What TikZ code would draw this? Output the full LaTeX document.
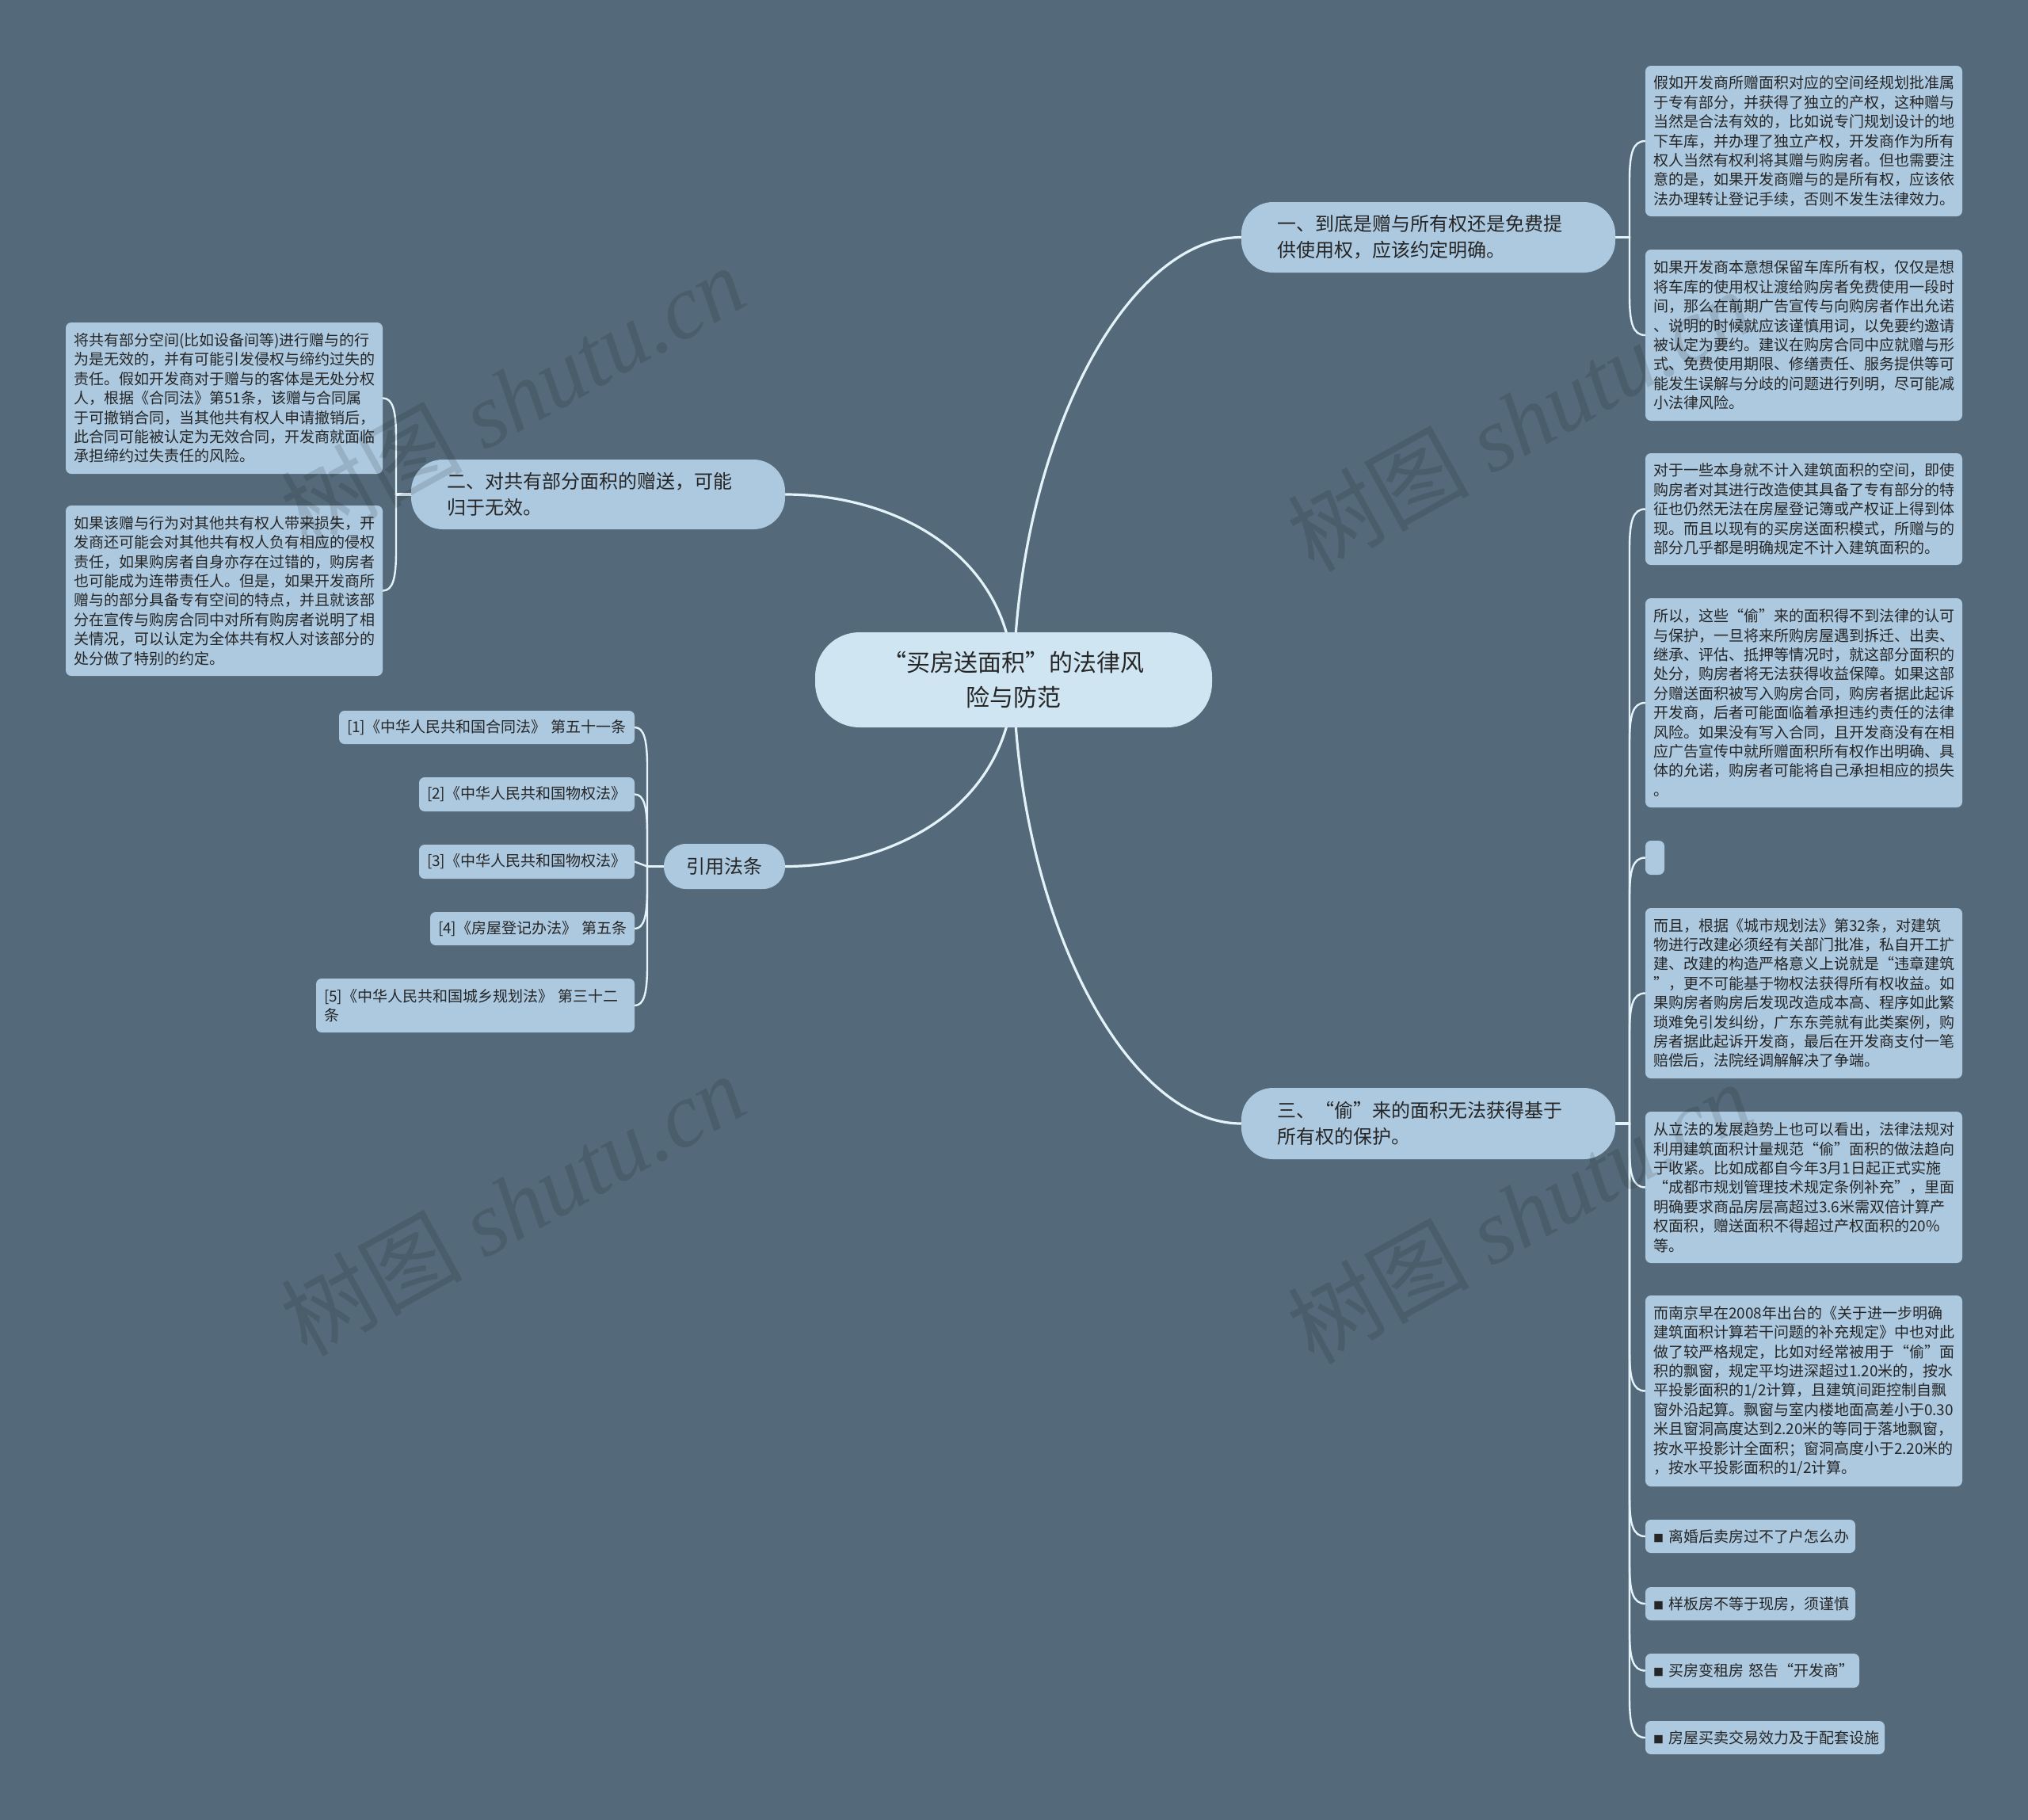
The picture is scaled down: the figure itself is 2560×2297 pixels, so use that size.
\documentclass[tikz,border=0pt]{standalone}
\usepackage{fontspec}
\setmainfont{Noto Sans CJK SC}
\newfontfamily\wmlatin{Liberation Serif}
\usetikzlibrary{calc}
\definecolor{bgc}{RGB}{84,106,122}
\definecolor{leafc}{RGB}{172,201,224}
\definecolor{rootc}{RGB}{207,229,242}
\definecolor{txt}{RGB}{38,38,38}
\definecolor{linec}{RGB}{228,242,249}
\pgfdeclarelayer{bgl}
\pgfdeclarelayer{lines}
\pgfdeclarelayer{wm}
\pgfsetlayers{bgl,lines,main,wm}
\newcommand\conn[4]{\draw[leafline] (#1) -- ($(#1 |- #2)+(0,#3*50)$) .. controls ($(#1 |- #2)+(0,#3*16)$) and ($(#1 |- #2)+(#4,0)$) .. (#2);}
\tikzset{
  leafbox/.style={rectangle, rounded corners=7, fill=leafc, text=txt,
    font=\fontsize{19}{24.4}\selectfont, inner xsep=10, inner ysep=0, align=left},
  branch/.style={rectangle, rounded corners=40, fill=leafc, text=txt,
    font=\fontsize{24}{33}\selectfont, inner xsep=45, inner ysep=0, align=left},
  rootnode/.style={rectangle, rounded corners=56, fill=rootc, text=txt,
    font=\fontsize{30}{44}\selectfont, inner xsep=40, inner ysep=0, align=center},
  mainline/.style={draw=linec, line width=3.2, line cap=round},
  leafline/.style={draw=linec, line width=2.4, line cap=round},
  wmark/.style={text=black, text opacity=0.12, rotate=29, inner sep=0,
    font=\fontsize{115}{115}\selectfont}
}
\newcommand\bsq{{\fontsize{13}{13}\selectfont ■}}
\begin{document}
\begin{tikzpicture}[x=1pt,y=-1pt]
\begin{pgfonlayer}{bgl}
\fill[bgc] (0,0) rectangle (2560,2297);
\end{pgfonlayer}
\useasboundingbox (0,0) rectangle (2560,2297);

% root and branches
\node[rootnode, minimum width=501, minimum height=120, text width=421] (root) at (1279.5,858)
  {“买房送面积”的法律风\\险与防范};
\node[branch, minimum width=472, minimum height=89, text width=382] (b1) at (1803,299.5)
  {一、到底是赠与所有权还是免费提\\供使用权，应该约定明确。};
\node[branch, minimum width=472, minimum height=88, text width=382] (b2) at (755,624)
  {二、对共有部分面积的赠送，可能\\归于无效。};
\node[branch, rounded corners=28, minimum width=153, minimum height=57, inner xsep=0, align=center] (b3) at (914.5,1093.5)
  {引用法条};
\node[branch, minimum width=472, minimum height=90, text width=382] (b4) at (1803,1418)
  {三、“偷”来的面积无法获得基于\\所有权的保护。};

% branch 1 leaves
\node[leafbox, minimum width=400, minimum height=190, text width=380] (L1a) at (2277,178) {假如开发商所赠面积对应的空间经规划批准属\\于专有部分，并获得了独立的产权，这种赠与\\当然是合法有效的，比如说专门规划设计的地\\下车库，并办理了独立产权，开发商作为所有\\权人当然有权利将其赠与购房者。但也需要注\\意的是，如果开发商赠与的是所有权，应该依\\法办理转让登记手续，否则不发生法律效力。};
\node[leafbox, minimum width=400, minimum height=216, text width=380] (L1b) at (2277,423) {如果开发商本意想保留车库所有权，仅仅是想\\将车库的使用权让渡给购房者免费使用一段时\\间，那么在前期广告宣传与向购房者作出允诺\\、说明的时候就应该谨慎用词，以免要约邀请\\被认定为要约。建议在购房合同中应就赠与形\\式、免费使用期限、修缮责任、服务提供等可\\能发生误解与分歧的问题进行列明，尽可能减\\小法律风险。};

% branch 2 leaves
\node[leafbox, minimum width=400, minimum height=191, text width=380] (L2a) at (283,502.5) {将共有部分空间(比如设备间等)进行赠与的行\\为是无效的，并有可能引发侵权与缔约过失的\\责任。假如开发商对于赠与的客体是无处分权\\人，根据《合同法》第51条，该赠与合同属\\于可撤销合同，当其他共有权人申请撤销后，\\此合同可能被认定为无效合同，开发商就面临\\承担缔约过失责任的风险。};
\node[leafbox, minimum width=400, minimum height=215, text width=380] (L2b) at (283,745.5) {如果该赠与行为对其他共有权人带来损失，开\\发商还可能会对其他共有权人负有相应的侵权\\责任，如果购房者自身亦存在过错的，购房者\\也可能成为连带责任人。但是，如果开发商所\\赠与的部分具备专有空间的特点，并且就该部\\分在宣传与购房合同中对所有购房者说明了相\\关情况，可以认定为全体共有权人对该部分的\\处分做了特别的约定。};

% citations
\node[leafbox, minimum width=373, minimum height=42, text width=353] (C1) at (614.5,918) {\mbox{[1]《中华人民共和国合同法》 第五十一条}};
\node[leafbox, minimum width=272, minimum height=43, text width=252] (C2) at (665,1002.5) {\mbox{[2]《中华人民共和国物权法》}};
\node[leafbox, minimum width=272, minimum height=43, text width=252] (C3) at (665,1087.5) {\mbox{[3]《中华人民共和国物权法》}};
\node[leafbox, minimum width=258, minimum height=42, text width=238] (C4) at (672,1172) {\mbox{[4]《房屋登记办法》 第五条}};
\node[leafbox, minimum width=402, minimum height=68, text width=382] (C5) at (600,1269) {\mbox{[5]《中华人民共和国城乡规划法》 第三十二}\\条};

% branch 4 leaves
\node[leafbox, minimum width=400, minimum height=141, text width=380] (L4a) at (2277,642.5) {对于一些本身就不计入建筑面积的空间，即使\\购房者对其进行改造使其具备了专有部分的特\\征也仍然无法在房屋登记簿或产权证上得到体\\现。而且以现有的买房送面积模式，所赠与的\\部分几乎都是明确规定不计入建筑面积的。};
\node[leafbox, minimum width=400, minimum height=264, text width=380] (L4b) at (2277,887) {所以，这些“偷”来的面积得不到法律的认可\\与保护，一旦将来所购房屋遇到拆迁、出卖、\\继承、评估、抵押等情况时，就这部分面积的\\处分，购房者将无法获得收益保障。如果这部\\分赠送面积被写入购房合同，购房者据此起诉\\开发商，后者可能面临着承担违约责任的法律\\风险。如果没有写入合同，且开发商没有在相\\应广告宣传中就所赠面积所有权作出明确、具\\体的允诺，购房者可能将自己承担相应的损失\\。};
\node[leafbox, minimum width=24, minimum height=43, inner xsep=0] (L4c) at (2089,1082.5) {};
\node[leafbox, minimum width=400, minimum height=215, text width=380] (L4d) at (2277,1253.5) {而且，根据《城市规划法》第32条，对建筑\\物进行改建必须经有关部门批准，私自开工扩\\建、改建的构造严格意义上说就是“违章建筑\\”，更不可能基于物权法获得所有权收益。如\\果购房者购房后发现改造成本高、程序如此繁\\琐难免引发纠纷，广东东莞就有此类案例，购\\房者据此起诉开发商，最后在开发商支付一笔\\赔偿后，法院经调解解决了争端。};
\node[leafbox, minimum width=400, minimum height=191, text width=380] (L4e) at (2277,1498.5) {从立法的发展趋势上也可以看出，法律法规对\\利用建筑面积计量规范“偷”面积的做法趋向\\于收紧。比如成都自今年3月1日起正式实施\\“成都市规划管理技术规定条例补充”，里面\\明确要求商品房层高超过3.6米需双倍计算产\\权面积，赠送面积不得超过产权面积的20\%\\等。};
\node[leafbox, minimum width=400, minimum height=241, text width=380] (L4f) at (2277,1755.5) {而南京早在2008年出台的《关于进一步明确\\建筑面积计算若干问题的补充规定》中也对此\\做了较严格规定，比如对经常被用于“偷”面\\积的飘窗，规定平均进深超过1.20米的，按水\\平投影面积的1/2计算，且建筑间距控制自飘\\窗外沿起算。飘窗与室内楼地面高差小于0.30\\米且窗洞高度达到2.20米的等同于落地飘窗，\\按水平投影计全面积；窗洞高度小于2.20米的\\，按水平投影面积的1/2计算。};
\node[leafbox, minimum width=265, minimum height=42, text width=245] (L4g) at (2209.5,1939) {\mbox{\bsq\ 离婚后卖房过不了户怎么办}};
\node[leafbox, minimum width=265, minimum height=42, text width=245] (L4h) at (2209.5,2024) {\mbox{\bsq\ 样板房不等于现房，须谨慎}};
\node[leafbox, minimum width=270, minimum height=43, text width=250] (L4i) at (2212,2108.5) {\mbox{\bsq\ 买房变租房 怒告“开发商”}};
\node[leafbox, minimum width=302, minimum height=42, text width=282] (L4j) at (2228,2193) {\mbox{\bsq\ 房屋买卖交易效力及于配套设施}};

% junctions
\coordinate (J1) at (2057,299.5);
\coordinate (J4) at (2057,1418);
\coordinate (J2) at (500,624);
\coordinate (J3) at (817,1093.5);

\begin{pgfonlayer}{lines}
\draw[mainline] (root.center) .. controls (1285,560) and (1420,299.5) .. (b1.west);
\draw[mainline] (root.center) .. controls (1285,1156) and (1420,1418) .. (b4.west);
\draw[mainline] (root.center) .. controls (1275,700) and (1130,624) .. (b2.east);
\draw[mainline] (root.center) .. controls (1275,1016) and (1130,1093.5) .. (b3.east);
\draw[mainline] (b1.east) -- (J1);
\draw[mainline] (b4.east) -- (J4);
\draw[mainline] (b2.west) -- (J2);
\draw[mainline] (b3.west) -- (J3);
\conn{J1}{L1a.west}{1}{4}
\conn{J1}{L1b.west}{-1}{4}
\conn{J4}{L4a.west}{1}{4}
\conn{J4}{L4b.west}{1}{4}
\conn{J4}{L4c.west}{1}{4}
\conn{J4}{L4d.west}{1}{4}
\conn{J4}{L4e.west}{-1}{4}
\conn{J4}{L4f.west}{-1}{4}
\conn{J4}{L4g.west}{-1}{4}
\conn{J4}{L4h.west}{-1}{4}
\conn{J4}{L4i.west}{-1}{4}
\conn{J4}{L4j.west}{-1}{4}
\conn{J2}{L2a.east}{1}{-4}
\conn{J2}{L2b.east}{-1}{-4}
\conn{J3}{C1.east}{1}{-4}
\conn{J3}{C2.east}{1}{-4}
\draw[leafline] (J3) -- (C3.east);
\conn{J3}{C4.east}{-1}{-4}
\conn{J3}{C5.east}{-1}{-4}
\end{pgfonlayer}

\begin{pgfonlayer}{wm}
\node[wmark] (w1) at (647,500) {树图 {\wmlatin\itshape shutu.cn}};
\node[wmark] (w2) at (1918,530) {树图 {\wmlatin\itshape shutu.cn}};
\node[wmark] (w3) at (647,1520) {树图 {\wmlatin\itshape shutu.cn}};
\node[wmark] (w4) at (1918,1530) {树图 {\wmlatin\itshape shutu.cn}};
\end{pgfonlayer}
\end{tikzpicture}
\end{document}
